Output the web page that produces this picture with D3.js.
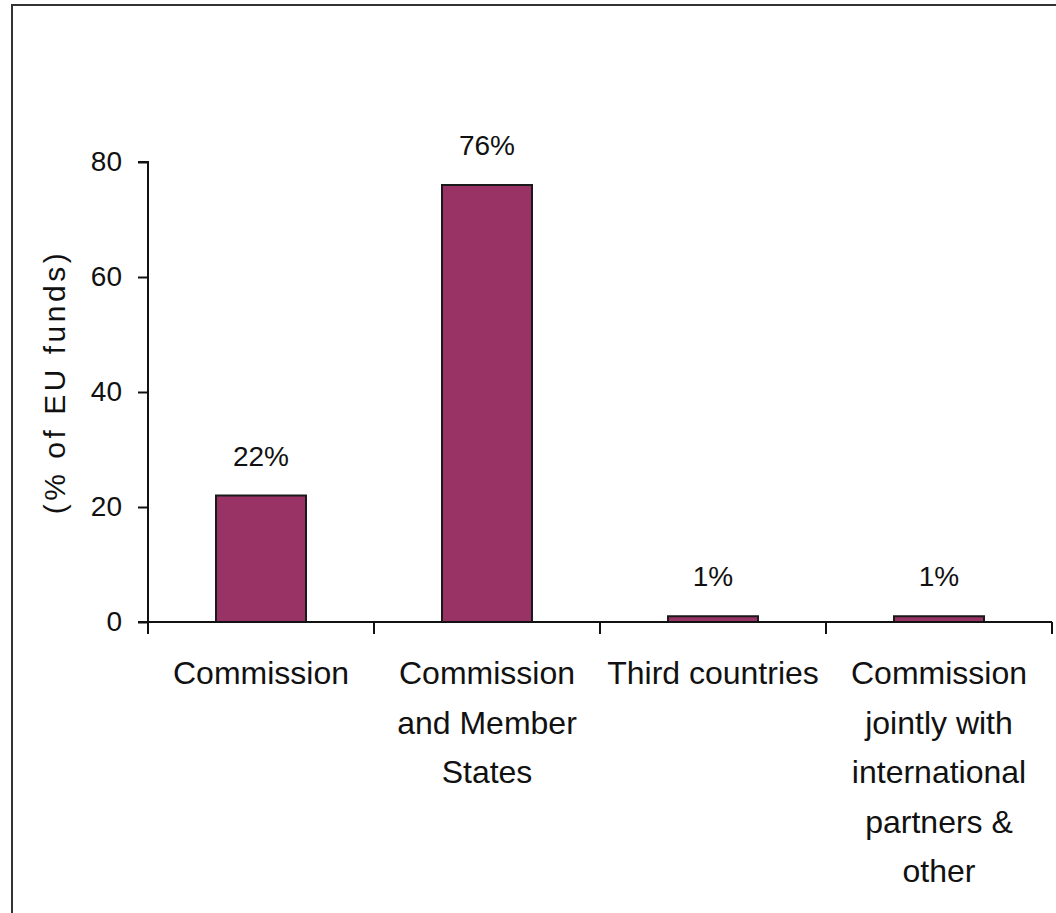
<!DOCTYPE html>
<html>
<head>
<meta charset="utf-8">
<script src="https://cdn.jsdelivr.net/npm/d3@7"></script>
<style>
  html, body { margin: 0; padding: 0; background: #fff; overflow: hidden; }
  svg { display: block; }
  text { font-family: "Liberation Sans", Arial, sans-serif; fill: #111; }
</style>
</head>
<body>
<svg id="chart" width="1056" height="913"></svg>
<script>
// ---- data ----
const categories = ["Commission", "Commission and Member States", "Third countries", "Commission jointly with international partners & other"];
const categoryLines = [
  ["Commission"],
  ["Commission", "and Member", "States"],
  ["Third countries"],
  ["Commission", "jointly with", "international", "partners &", "other"]
];
const values = [22, 76, 1, 1];
const valueLabels = ["22%", "76%", "1%", "1%"];
const yTicks = [0, 20, 40, 60, 80];
const yTitle = "(% of EU funds)";

// ---- layout ----
const svg = d3.select("#chart");
const W = 1056, H = 913;
const mLeft = 148, mRight = 1052, mTop = 162, mBottom = 622;

// frame
svg.append("rect")
  .attr("x", 12).attr("y", 5)
  .attr("width", W + 20).attr("height", H + 20)
  .attr("fill", "none").attr("stroke", "#333").attr("stroke-width", 2);

const xb = d3.scaleBand().domain(categories).range([mLeft, mRight]);
const y = d3.scaleLinear().domain([0, 80]).range([mBottom, mTop]);
const barW = 90;

// bars
svg.append("g").selectAll("rect").data(categories).join("rect")
  .attr("x", (d) => xb(d) + xb.bandwidth() / 2 - barW / 2)
  .attr("width", barW)
  .attr("y", (d, i) => y(values[i]))
  .attr("height", (d, i) => y(0) - y(values[i]))
  .attr("fill", "#993366")
  .attr("stroke", "#1a1a1a")
  .attr("stroke-width", 2);

// y axis
const yAxis = d3.axisLeft(y).tickValues(yTicks).tickSize(10).tickPadding(16).tickFormat(d3.format("d"));
const gy = svg.append("g").attr("transform", `translate(${mLeft},0)`).call(yAxis);
gy.select(".domain").attr("stroke", "#111").attr("stroke-width", 2)
  .attr("d", `M-10,${mTop}H0V${mBottom + 12}`);
gy.selectAll(".tick line").attr("stroke", "#111").attr("stroke-width", 2);
gy.selectAll(".tick text").style("font-size", "28px").style("font-family", "'Liberation Sans', Arial, sans-serif").attr("fill", "#111");

// x axis
const xAxis = d3.axisBottom(xb).tickValues([]).tickSize(0);
const gx = svg.append("g").attr("transform", `translate(0,${mBottom})`).call(xAxis);
gx.select(".domain").attr("stroke", "#111").attr("stroke-width", 2).attr("d", `M${mLeft - 10},0H${mRight}`);
// category separator ticks
const sepPos = categories.map((d) => xb(d)).concat([xb(categories[categories.length - 1]) + xb.bandwidth()]);
gx.selectAll("line.sep").data(sepPos).join("line")
  .attr("class", "sep")
  .attr("x1", (d) => d).attr("x2", (d) => d)
  .attr("y1", 0).attr("y2", 12)
  .attr("stroke", "#111").attr("stroke-width", 2);

// category labels
const lab = svg.append("g").selectAll("text").data(categories).join("text")
  .attr("text-anchor", "middle")
  .style("font-size", "32px")
  .attr("x", (d) => xb(d) + xb.bandwidth() / 2)
  .attr("y", 684);
lab.each(function (d, i) {
  const t = d3.select(this);
  categoryLines[i].forEach((ln, j) => {
    t.append("tspan")
      .attr("x", xb(d) + xb.bandwidth() / 2)
      .attr("y", 684 + j * 49.5)
      .text(ln);
  });
});

// value labels
svg.append("g").selectAll("text").data(categories).join("text")
  .attr("text-anchor", "middle")
  .style("font-size", "28px")
  .attr("x", (d) => xb(d) + xb.bandwidth() / 2)
  .attr("y", (d, i) => y(values[i]) - 30)
  .text((d, i) => valueLabels[i]);

// y title
svg.append("text")
  .attr("transform", `translate(65,382) rotate(-90)`)
  .attr("text-anchor", "middle")
  .style("font-size", "30px")
  .style("letter-spacing", "3.5px")
  .text(yTitle);
</script>
</body>
</html>
